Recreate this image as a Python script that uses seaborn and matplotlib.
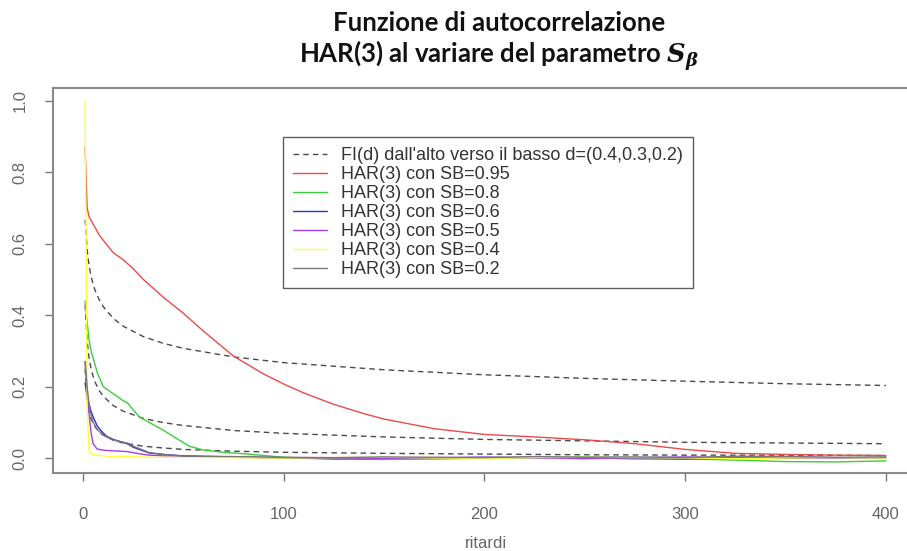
import matplotlib
matplotlib.use("Agg")
import matplotlib.pyplot as plt
from matplotlib.lines import Line2D
import seaborn as sns

sns.set_theme(style="white")
plt.rcParams["font.family"] = ["Liberation Sans", "DejaVu Sans"]
plt.rcParams["mathtext.fontset"] = "custom"
plt.rcParams["mathtext.it"] = "DejaVu Serif:italic:bold"
plt.rcParams["mathtext.rm"] = "DejaVu Serif:bold"

# ---------------- data ----------------
fi_lags = [1, 2, 3, 4, 5, 6, 8, 10, 15, 20, 30, 40, 50, 75, 100, 150, 200, 250, 300, 350, 400]
fi_d04 = [0.667, 0.583, 0.538, 0.508, 0.486, 0.469, 0.443, 0.424, 0.391, 0.369, 0.340, 0.321,
          0.307, 0.283, 0.267, 0.247, 0.233, 0.223, 0.215, 0.208, 0.203]
fi_d03 = [0.429, 0.328, 0.279, 0.249, 0.228, 0.212, 0.189, 0.173, 0.147, 0.131, 0.111, 0.099,
          0.091, 0.077, 0.069, 0.059, 0.052, 0.048, 0.044, 0.042, 0.040]
fi_d02 = [0.250, 0.167, 0.131, 0.110, 0.097, 0.087, 0.073, 0.064, 0.050, 0.042, 0.033, 0.028,
          0.024, 0.019, 0.016, 0.013, 0.011, 0.009, 0.008, 0.008, 0.007]

red_lags = [1, 2, 3, 5, 8, 10, 15, 20, 22, 25, 30, 40, 50, 60, 75, 90, 100, 110, 125, 140,
            150, 175, 200, 225, 250, 275, 300, 325, 350, 375, 400]
red_sb095 = [0.87, 0.70, 0.675, 0.655, 0.625, 0.61, 0.575, 0.555, 0.545, 0.53, 0.50, 0.45,
             0.405, 0.355, 0.285, 0.235, 0.207, 0.182, 0.150, 0.124, 0.109, 0.082, 0.066,
             0.059, 0.051, 0.040, 0.024, 0.013, 0.010, 0.008, 0.007]

green_lags = [1, 2, 3, 4, 5, 7, 10, 15, 20, 22, 25, 28, 36, 40, 45, 53, 60, 70, 80, 100,
              125, 150, 175, 200, 225, 250, 275, 300, 325, 350, 375, 400]
green_sb08 = [0.44, 0.38, 0.33, 0.30, 0.28, 0.24, 0.20, 0.18, 0.16, 0.155, 0.135, 0.115,
              0.09, 0.078, 0.06, 0.033, 0.022, 0.016, 0.012, 0.002, -0.003, -0.004, -0.003,
              0.0, 0.002, 0.003, 0.001, -0.002, -0.006, -0.010, -0.011, -0.008]

low_lags = [1, 2, 3, 4, 5, 7, 10, 12, 15, 22, 25, 30, 33, 40, 50, 75, 100, 125, 150, 175,
            200, 225, 250, 275, 300, 325, 350, 375, 400]
blue_sb06 = [0.21, 0.17, 0.15, 0.13, 0.115, 0.09, 0.07, 0.06, 0.052, 0.04, 0.03, 0.02, 0.014,
             0.010, 0.006, 0.003, 0.0, -0.002, -0.001, 0.0, 0.002, 0.001, 0.0, -0.002, -0.003,
             0.0, 0.003, 0.001, 0.0]
purple_sb05 = [0.27, 0.18, 0.12, 0.07, 0.04, 0.025, 0.022, 0.021, 0.02, 0.018, 0.015, 0.01,
               0.008, 0.006, 0.005, 0.002, 0.001, 0.0, -0.001, 0.001, 0.002, 0.0, -0.002,
               0.001, 0.003, 0.001, -0.001, 0.0, 0.002]
yellow_sb04 = [1.0, 0.15, 0.02, 0.012, 0.01, 0.008, 0.006, 0.005, 0.004, 0.004, 0.003, 0.003,
               0.002, 0.002, 0.002, 0.001, 0.0, 0.001, 0.002, 0.0, -0.001, 0.001, 0.002,
               0.001, 0.0, -0.002, 0.0, 0.001, 0.0]
gray_sb02 = [0.27, 0.20, 0.15, 0.12, 0.10, 0.08, 0.065, 0.058, 0.05, 0.042, 0.033, 0.022,
             0.015, 0.010, 0.005, 0.004, 0.002, 0.001, 0.003, 0.002, 0.001, 0.004, 0.002,
             0.003, 0.001, 0.005, 0.004, 0.002, 0.003]

legend_labels = ["FI(d) dall'alto verso il basso d=(0.4,0.3,0.2)",
                 "HAR(3) con SB=0.95", "HAR(3) con SB=0.8", "HAR(3) con SB=0.6",
                 "HAR(3) con SB=0.5", "HAR(3) con SB=0.4", "HAR(3) con SB=0.2"]
x_ticks = [0, 100, 200, 300, 400]
y_ticks = [0.0, 0.2, 0.4, 0.6, 0.8, 1.0]
y_ticklabels = ["0.0", "0.2", "0.4", "0.6", "0.8", "1.0"]

# ---------------- styles ----------------
DASH_COL = "#4a4a4a"
COLORS = ["#ec4a4a", "#3ccc3c", "#3030e0", "#a040f0", "#ffff33", "#777777"]
DASH = (0, (4, 3))

W, H = 907, 551
fig = plt.figure(figsize=(W / 100, H / 100), dpi=100)
ax = fig.add_axes([53 / W, 1 - 473 / H, (918 - 53) / W, (473 - 88) / H])

for vals in (fi_d04, fi_d03, fi_d02):
    sns.lineplot(x=fi_lags, y=vals, ax=ax, color=DASH_COL, linewidth=1.0,
                 estimator=None, sort=False, legend=False)
    ax.lines[-1].set_linestyle(DASH)

series = [(red_lags, red_sb095), (green_lags, green_sb08), (low_lags, blue_sb06),
          (low_lags, purple_sb05), (low_lags, yellow_sb04), (low_lags, gray_sb02)]
for (lx, vy), c in zip(series, COLORS):
    sns.lineplot(x=lx, y=vy, ax=ax, color=c, linewidth=1.0,
                 estimator=None, sort=False, legend=False)

ax.set_xlim(-15, 416)
ax.set_ylim(-0.042, 1.036)
ax.set_xticks(x_ticks)
ax.set_xticklabels([str(t) for t in x_ticks])
ax.set_yticks(y_ticks)
ax.set_yticklabels(y_ticklabels)
ax.tick_params(axis="both", direction="out", length=5.5, width=1.0, color="#777777",
               labelcolor="#666666", labelsize=12, bottom=True, left=True)
ax.tick_params(axis="x", pad=19)
ax.tick_params(axis="y", pad=13)
for lab in ax.get_yticklabels():
    lab.set_rotation(90)
    lab.set_va("center")
for sp in ax.spines.values():
    sp.set_visible(True)
    sp.set_color("#8a8a8a")
    sp.set_linewidth(1.5)
ax.set_xlabel("ritardi", fontsize=12, color="#666666", labelpad=10)
ax.set_ylabel("")

handles = [Line2D([], [], color=DASH_COL, lw=1.0, ls=DASH)] + \
          [Line2D([], [], color=c, lw=1.0) for c in COLORS]
leg = ax.legend(handles, legend_labels, loc="upper left",
                bbox_to_anchor=((283 - 53) / (918 - 53), (473 - 137) / (473 - 88)),
                borderaxespad=0, fancybox=False, frameon=True, fontsize=13,
                handlelength=1.9, handletextpad=0.75, labelspacing=0.11,
                borderpad=0.55)
leg.get_frame().set_edgecolor("#333333")
leg.get_frame().set_linewidth(1.0)
for t in leg.get_texts():
    t.set_color("#333333")

fig.text(499 / W, 1 - 23 / H, "Funzione di autocorrelazione", ha="center", va="center",
         fontsize=18.5, fontweight="bold", family="Lato", color="#111111")
fig.text(499 / W, 1 - 56 / H, r"HAR(3) al variare del parametro $S_\beta$",
         ha="center", va="center", fontsize=18.5, fontweight="bold", family="Lato",
         color="#111111")

fig.savefig("out.png", dpi=100)
